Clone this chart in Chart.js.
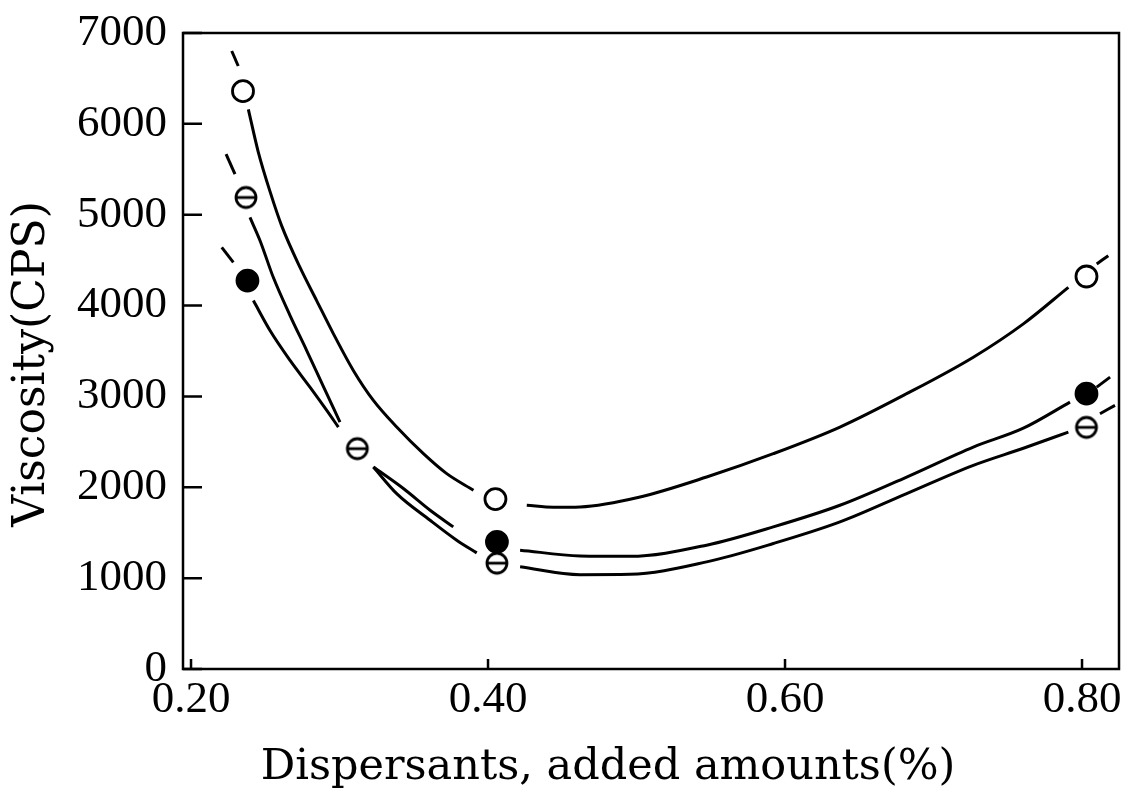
<!DOCTYPE html>
<html>
<head>
<meta charset="utf-8">
<title>Viscosity vs dispersant amount</title>
<script src="https://cdn.jsdelivr.net/npm/chart.js@4.4.1/dist/chart.umd.min.js"></script>
<style>
  html, body { margin: 0; padding: 0; background: #fff; }
  #chart { display: block; }
</style>
</head>
<body>
<canvas id="chart" width="1121" height="808"></canvas>
<script>
// Axis ticks
const xTicks = [0.20, 0.40, 0.60, 0.80];
const yTicks = [0, 1000, 2000, 3000, 4000, 5000, 6000, 7000];

// Measured points (three dispersants)
const openX = [0.235, 0.405, 0.803];
const openY = [6360, 1870, 4320];
const filledX = [0.238, 0.406, 0.803];
const filledY = [4275, 1400, 3030];
const thetaX = [0.237, 0.312, 0.406, 0.803];
const thetaY = [5190, 2425, 1165, 2660];

// Curves, broken where they stop short of the markers
const openDashLX = [0.2274, 0.2318];
const openDashLY = [6802, 6637];
const openLeftX = [0.2386, 0.2453, 0.2535, 0.2610, 0.2734, 0.2846, 0.2959, 0.3093, 0.3228, 0.3385, 0.3565, 0.3722, 0.3902];
const openLeftY = [6160, 5690, 5240, 4880, 4420, 4055, 3689, 3286, 2956, 2663, 2370, 2150, 1967];
const openRightX = [0.4261, 0.4440, 0.4620, 0.5024, 0.5472, 0.5921, 0.6370, 0.6819, 0.7268, 0.7605, 0.7908];
const openRightY = [1802, 1780, 1784, 1894, 2113, 2370, 2663, 3030, 3432, 3799, 4201];
const openDashRX = [0.8099, 0.8177];
const openDashRY = [4458, 4549];

const filledDashLX = [0.2207, 0.2285];
const filledDashLY = [4641, 4476];
const filledLeftX = [0.2420, 0.2532, 0.2667, 0.2801, 0.2914, 0.2992];
const filledLeftY = [4055, 3725, 3396, 3102, 2846, 2663];
const filledMidX = [0.3228, 0.3430, 0.3610, 0.3766];
const filledMidY = [2223, 1986, 1747, 1564];
const filledRightX = [0.4216, 0.4620, 0.4956, 0.5472, 0.5921, 0.6370, 0.6819, 0.7268, 0.7605, 0.7919];
const filledRightY = [1308, 1245, 1240, 1363, 1564, 1802, 2113, 2443, 2650, 2937];
const filledDashRX = [0.8099, 0.8189];
const filledDashRY = [3102, 3212];

const thetaDashLX = [0.2236, 0.2296];
const thetaDashLY = [5667, 5447];
const thetaLeftX = [0.2397, 0.2465, 0.2554, 0.2667, 0.2779, 0.2891, 0.3003];
const thetaLeftY = [4970, 4714, 4311, 3890, 3505, 3110, 2718];
const thetaMidX = [0.3228, 0.3385, 0.3610, 0.3789, 0.3924];
const thetaMidY = [2223, 1930, 1637, 1418, 1278];
const thetaRightX = [0.4216, 0.4620, 0.4956, 0.5472, 0.5921, 0.6370, 0.6819, 0.7268, 0.7605, 0.7908];
const thetaRightY = [1125, 1038, 1042, 1179, 1381, 1619, 1931, 2242, 2430, 2608];
const thetaDashRX = [0.8121, 0.8222];
const thetaDashRY = [2810, 2901];

const xTitle = 'Dispersants, added amounts(%)';
const yTitle = 'Viscosity(CPS)';

const INK = '#000';
const TICK_FONT = '"Liberation Serif", "Times New Roman", serif';
const TITLE_FONT = '"DejaVu Serif", "Liberation Serif", serif';

function pairs(xs, ys) {
    return xs.map((x, i) => ({ x: x, y: ys[i] }));
}

function curve(xs, ys) {
    return {
        data: pairs(xs, ys),
        showLine: true,
        borderColor: INK,
        borderWidth: 3,
        pointRadius: 0,
        cubicInterpolationMode: 'monotone',
        fill: false,
        order: 2
    };
}

function markers(xs, ys, style, bg) {
    return {
        data: pairs(xs, ys),
        showLine: false,
        pointStyle: style,
        pointRadius: 10.5,
        pointBorderWidth: 2.8,
        pointBorderColor: INK,
        pointBackgroundColor: bg,
        order: 0
    };
}

// circle with a bar through it
function thetaSymbol() {
    const c = document.createElement('canvas');
    c.width = 28;
    c.height = 28;
    const g = c.getContext('2d');
    g.fillStyle = '#fff';
    g.strokeStyle = INK;
    g.lineWidth = 2.8;
    g.beginPath();
    g.arc(14, 14, 10, 0, Math.PI * 2);
    g.fill();
    g.stroke();
    g.beginPath();
    g.moveTo(3.5, 14);
    g.lineTo(24.5, 14);
    g.stroke();
    return c;
}

// box round the plot, inward ticks, axis titles
const framePlugin = {
    id: 'frame',
    afterDatasetsDraw(chart) {
        const { ctx, chartArea: a, scales } = chart;
        ctx.save();
        ctx.strokeStyle = INK;
        ctx.lineWidth = 2.5;
        ctx.strokeRect(a.left, a.top, a.right - a.left, a.bottom - a.top);

        ctx.beginPath();
        yTicks.forEach(v => {
            const py = scales.y.getPixelForValue(v);
            ctx.moveTo(a.left, py);
            ctx.lineTo(a.left + 19, py);
        });
        xTicks.forEach(v => {
            const px = scales.x.getPixelForValue(v);
            ctx.moveTo(px, a.bottom);
            ctx.lineTo(px, a.bottom - 10);
        });
        ctx.stroke();

        ctx.fillStyle = INK;
        ctx.font = '43px ' + TITLE_FONT;
        ctx.textAlign = 'center';
        ctx.textBaseline = 'middle';
        ctx.fillText(xTitle, a.left + 425, a.bottom + 99);

        ctx.font = '44px ' + TITLE_FONT;
        ctx.translate(33, a.top + 331);
        ctx.rotate(-Math.PI / 2);
        ctx.fillText(yTitle, 0, 0);
        ctx.restore();
    }
};

new Chart(document.getElementById('chart'), {
    type: 'scatter',
    data: {
        datasets: [
            curve(openDashLX, openDashLY),
            curve(openLeftX, openLeftY),
            curve(openRightX, openRightY),
            curve(openDashRX, openDashRY),
            curve(filledDashLX, filledDashLY),
            curve(filledLeftX, filledLeftY),
            curve(filledMidX, filledMidY),
            curve(filledRightX, filledRightY),
            curve(filledDashRX, filledDashRY),
            curve(thetaDashLX, thetaDashLY),
            curve(thetaLeftX, thetaLeftY),
            curve(thetaMidX, thetaMidY),
            curve(thetaRightX, thetaRightY),
            curve(thetaDashRX, thetaDashRY),
            markers(openX, openY, 'circle', '#fff'),
            markers(filledX, filledY, 'circle', INK),
            markers(thetaX, thetaY, thetaSymbol(), '#fff')
        ]
    },
    options: {
        responsive: false,
        animation: false,
        devicePixelRatio: 1,
        layout: {
            autoPadding: false,
            padding: { left: 0, top: 33, right: 2, bottom: 0 }
        },
        plugins: {
            legend: { display: false },
            tooltip: { enabled: false }
        },
        scales: {
            x: {
                type: 'linear',
                min: 0.1946,
                max: 0.8249,
                afterBuildTicks: s => { s.ticks = xTicks.map(v => ({ value: v })); },
                afterFit: s => {
                    s.height = 139;
                    s.paddingLeft = 0;
                    s.paddingRight = 0;
                },
                grid: { display: false, drawTicks: false },
                border: { display: false },
                ticks: {
                    padding: 4,
                    color: INK,
                    maxRotation: 0,
                    font: { family: TICK_FONT, size: 45 },
                    callback: v => v.toFixed(2)
                }
            },
            y: {
                type: 'linear',
                min: 0,
                max: 7000,
                afterBuildTicks: s => { s.ticks = yTicks.map(v => ({ value: v })); },
                afterFit: s => {
                    s.width = 183;
                    s.paddingTop = 0;
                    s.paddingBottom = 0;
                },
                grid: { display: false, drawTicks: false },
                border: { display: false },
                ticks: {
                    padding: 16,
                    color: INK,
                    font: { family: TICK_FONT, size: 45 },
                    callback: v => String(v)
                }
            }
        }
    },
    plugins: [framePlugin]
});
</script>
</body>
</html>
